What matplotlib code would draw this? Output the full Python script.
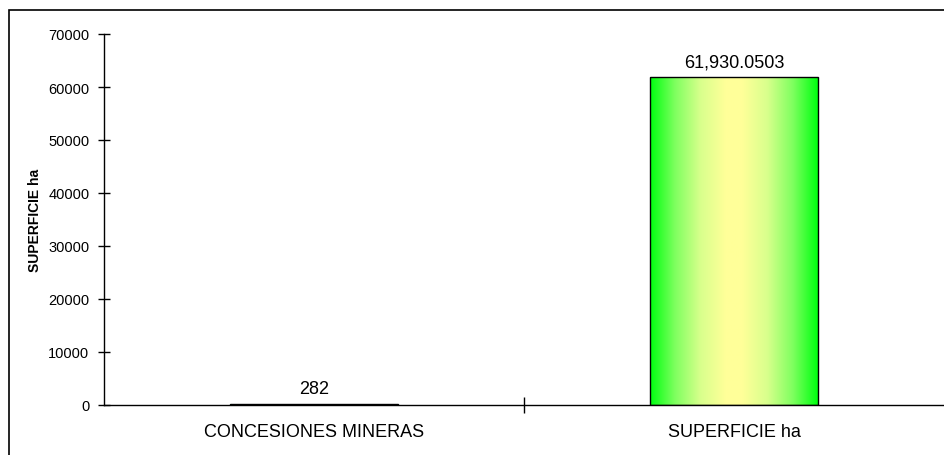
import numpy as np
import matplotlib.pyplot as plt
from matplotlib.colors import LinearSegmentedColormap
from matplotlib.patches import Rectangle

categories = ["CONCESIONES MINERAS", "SUPERFICIE ha"]
values = [282, 61930.0503]
value_labels = ["282", "61,930.0503"]
y_ticks = [0, 10000, 20000, 30000, 40000, 50000, 60000, 70000]
y_label = "SUPERFICIE ha"

plt.rcParams['font.family'] = ['Liberation Sans', 'DejaVu Sans']

W, H = 944, 456
fig = plt.figure(figsize=(W / 100, H / 100), dpi=100)
ax = fig.add_axes([104 / W, 1 - 406 / H, 840 / W, 371 / H])

# green -> pale yellow -> green across each bar
grad_cmap = LinearSegmentedColormap.from_list(
    "grn", [(0.0, "#00ff10"), (0.15, "#80ff60"), (0.3, "#d8ff8c"),
            (0.45, "#ffff99"), (0.55, "#ffff99"), (0.7, "#d8ff8c"),
            (0.85, "#80ff60"), (1.0, "#00ff10")])

x = np.arange(len(categories))
bars = ax.bar(x, values, width=0.4, color="none", edgecolor="black",
              linewidth=1, zorder=3)

grad = np.linspace(0, 1, 256).reshape(1, -1)
for b in bars:
    x0, w, h = b.get_x(), b.get_width(), b.get_height()
    im = ax.imshow(grad, extent=[x0, x0 + w, 0, h], aspect="auto",
                   cmap=grad_cmap, zorder=2, interpolation="bilinear")
    im.set_clip_path(b)

ax.set_xlim(-0.5, 1.5)
ax.set_ylim(0, 70000)

for xi, v, lab in zip(x, values, value_labels):
    ax.annotate(lab, (xi, v), xytext=(0, 7.5), textcoords="offset points",
                ha="center", va="baseline", fontsize=13)

ax.spines[["top", "right"]].set_visible(False)
ax.spines[["left", "bottom"]].set_linewidth(1)

ax.set_yticks(y_ticks)
ax.set_yticklabels([str(t) for t in y_ticks])
ax.tick_params(axis="y", direction="inout", length=9, width=1,
               labelsize=10.5, pad=6)

ax.set_xticks(x)
ax.set_xticklabels(categories)
ax.tick_params(axis="x", which="major", length=0, labelsize=13, pad=13)
ax.set_xticks([0.5], minor=True)
ax.tick_params(axis="x", which="minor", direction="inout", length=12,
               width=1)

fig.text(35 / W, 1 - 220.5 / H, y_label, rotation=90, ha="center",
         va="center", fontsize=10, fontweight="bold")

# outer chart frame (right/bottom edges fall outside the picture)
fig.add_artist(Rectangle((9 / W, -0.05), 1.2, 1 - 11 / H + 0.05,
                         transform=fig.transFigure, fill=False,
                         edgecolor="black", linewidth=1.2))

fig.savefig("out.png", dpi=100)
